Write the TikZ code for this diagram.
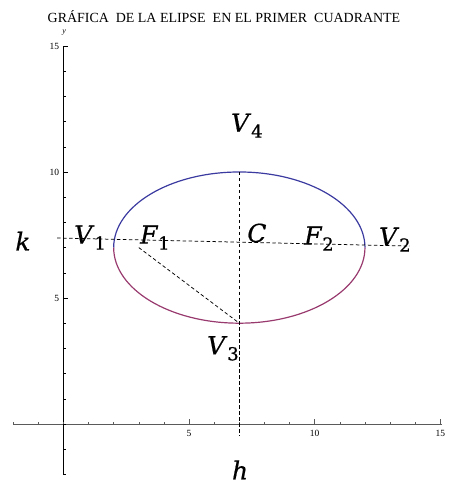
\documentclass[tikz,border=0pt]{standalone}
\usepackage{fontspec}
\setmainfont{Liberation Serif}
\newfontfamily\etiq[FakeBold=0.6]{DejaVu Serif}
\usepackage{amsmath}
\usepackage{xcolor}
\usepackage{tikz}
\usetikzlibrary{calc}
\definecolor{elipsetop}{RGB}{58,58,160}
\definecolor{elipsebot}{RGB}{152,58,110}
\definecolor{axisgray}{RGB}{90,90,90}
\newcommand{\etq}[2]{\textit{#1}\raisebox{-0.24em}{\fontsize{18}{18}\selectfont #2}}
\tikzset{
  ejes/.style={
    line width=0.7pt,
  },
  guia/.style={
    line width=0.75pt,
    dash pattern=on 3.5pt off 2.5pt,
  },
  rotulo/.style={
    inner sep=0pt,
    font=\etiq\fontsize{25}{27}\selectfont,
  },
  marca/.style={
    inner sep=1pt,
    font=\fontsize{9.5}{10}\selectfont,
  },
  every picture/.style = {
    x=25.13bp,
    y=25.2bp,
  }
}

\begin{document}
\begin{tikzpicture}
    \useasboundingbox (-2.523,-2.421) rectangle (15.464,16.825);
    % ejes
    \coordinate (xini) at (-2,0);
    \coordinate (xfin) at (15.05,0);
    \coordinate (yini) at (0,-2);
    \coordinate (yfin) at (0,15);
    \draw[ejes, axisgray] (xini)--(xfin);
    \draw[ejes] (yini)--(yfin);
    \foreach \i in {-2,...,15}{
        \draw[axisgray, line width=0.5pt] (\i,0)--(\i,0.09);
        \draw[line width=0.5pt] (0,\i)--(0.09,\i);
    }
    \foreach \i in {5,10,15}{
        \draw[axisgray, line width=0.5pt] (\i,0)--(\i,0.2);
        \draw[line width=0.5pt] (0,\i)--(0.2,\i);
        \node[marca, anchor=north] (mx\i) at (\i,-0.2) {\i};
        \node[marca, anchor=east] (my\i) at (-0.12,\i) {\i};
    }
    \node[marca, font=\fontsize{8}{9}\selectfont\itshape] (ylab) at (0.03,15.52) {y};
    \node (titulo) at (6.39,16.15) {\fontsize{14}{16}\selectfont GR\'AFICA\ \ DE LA ELIPSE\ \ EN EL PRIMER\ \ CUADRANTE};
    % elipse
    \coordinate (C) at (7,7);
    \coordinate (V1) at (2,7);
    \coordinate (V2) at (12,7);
    \coordinate (V3) at (7,4);
    \coordinate (V4) at (7,10);
    \coordinate (F1) at (3,7);
    \draw[elipsetop, line width=1.2pt] (V2) arc (0:180:5 and 3);
    \draw[elipsebot, line width=1.2pt] (V1) arc (180:360:5 and 3);
    % lineas guia
    \coordinate (gizq) at (-0.25,7.38);
    \coordinate (gder) at (13.79,7.06);
    \coordinate (gbaj) at (7,-0.45);
    \draw[guia] (gizq)--(gder);
    \draw[guia] (V4)--(gbaj);
    \draw[guia] (F1)--(V3);
    % rotulos
    \node[rotulo] (lV1) at (1.06,7.40) {\etq{V}{1}};
    \node[rotulo] (lF1) at (3.64,7.40) {\etq{F}{1}};
    \node[rotulo] (lC) at (7.70,7.58) {\textit{C}};
    \node[rotulo] (lF2) at (10.17,7.36) {\etq{F}{2}};
    \node[rotulo] (lV2) at (13.19,7.32) {\etq{V}{2}};
    \node[rotulo] (lV4) at (7.30,11.84) {\etq{V}{4}};
    \node[rotulo] (lV3) at (6.35,3.00) {\etq{V}{3}};
    \node[rotulo] (lk) at (-1.61,7.26) {\textit{k}};
    \node[rotulo] (lh) at (7.03,-1.82) {\textit{h}};
\end{tikzpicture}
\end{document}
